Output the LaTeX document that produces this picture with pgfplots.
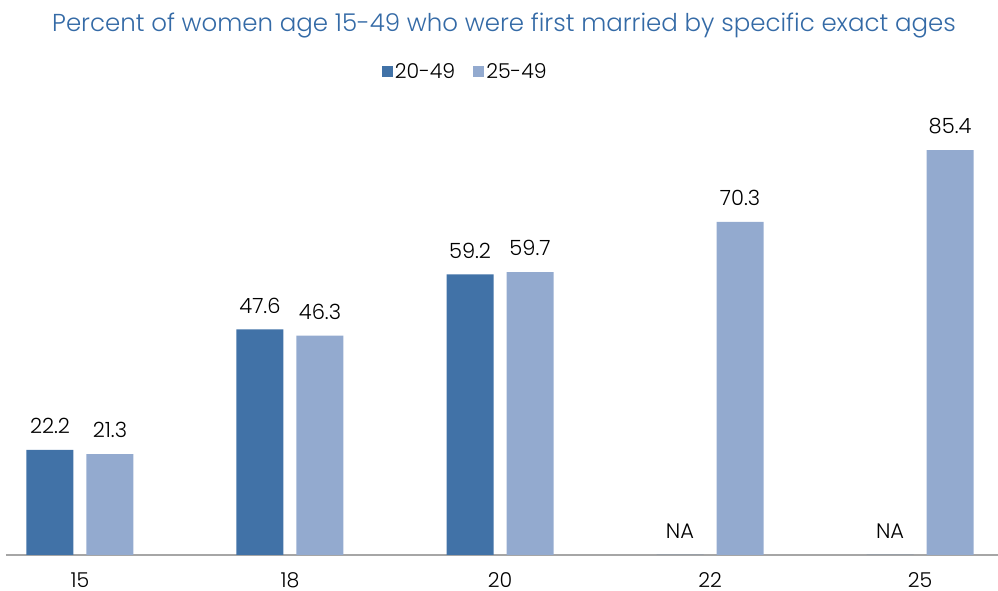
\documentclass[border=0pt]{standalone}
\usepackage{pgfplots}
\pgfplotsset{compat=1.18}
\usepackage{pgfplotstable}
\usepackage{fontspec}
\setmainfont{Poppins}[UprightFont=* Light]
\definecolor{darkb}{RGB}{65,114,167}
\definecolor{lightb}{RGB}{147,170,207}
\definecolor{axgray}{RGB}{166,166,166}
\definecolor{titleb}{RGB}{52,106,166}
\pgfplotstableread{
x y lab
0 22.2 22.2
1 47.6 47.6
2 59.2 59.2
3 0 NA
4 0 NA
}\darkdata
\pgfplotstableread{
x y lab
0 21.3 21.3
1 46.3 46.3
2 59.7 59.7
3 70.3 70.3
4 85.4 85.4
}\lightdata
\begin{document}
\begin{tikzpicture}
\useasboundingbox (0,0) rectangle (998pt,591pt);
\node[font=\fontsize{24.5}{28}\selectfont, text=titleb] at (504pt,565pt) {Percent of women age 15-49 who were first married by specific exact ages};
\begin{axis}[
  at={(6pt,36pt)}, anchor=south west,
  scale only axis, width=992pt, height=455pt,
  xmin=-0.352, xmax=4.371, ymin=0, ymax=96,
  axis y line=none,
  axis x line*=bottom,
  x axis line style={draw=axgray, line width=1.5pt, -},
  xtick={0,1,2,3,4}, xticklabels={15,18,20,22,25},
  xtick style={draw=none},
  xticklabel style={font=\fontsize{20.5}{24}\selectfont, inner sep=0pt, text depth=0pt, anchor=north, yshift=-13pt},
  /pgf/number format/assume math mode=true,
  ybar, bar width=47pt, bar shift auto,
  legend style={at={(0.463,1.062)}, anchor=center, draw=none, font=\fontsize{20.5}{24}\selectfont, legend columns=2, /tikz/every even column/.append style={column sep=16pt}},
  legend image code/.code={\fill[#1] (0pt,-5pt) rectangle (11pt,6pt);},
  nodes near coords, point meta=explicit symbolic,
  every node near coord/.append style={font=\fontsize{21}{24}\selectfont, text=black, inner sep=0pt, anchor=south, yshift=16pt},
]
\addplot[fill=darkb, draw=none, bar shift=-30pt] table[x=x, y=y, meta=lab] {\darkdata};
\addplot[fill=lightb, draw=none, bar shift=30pt] table[x=x, y=y, meta=lab] {\lightdata};
\legend{20-49, 25-49}
\end{axis}
\end{tikzpicture}
\end{document}
